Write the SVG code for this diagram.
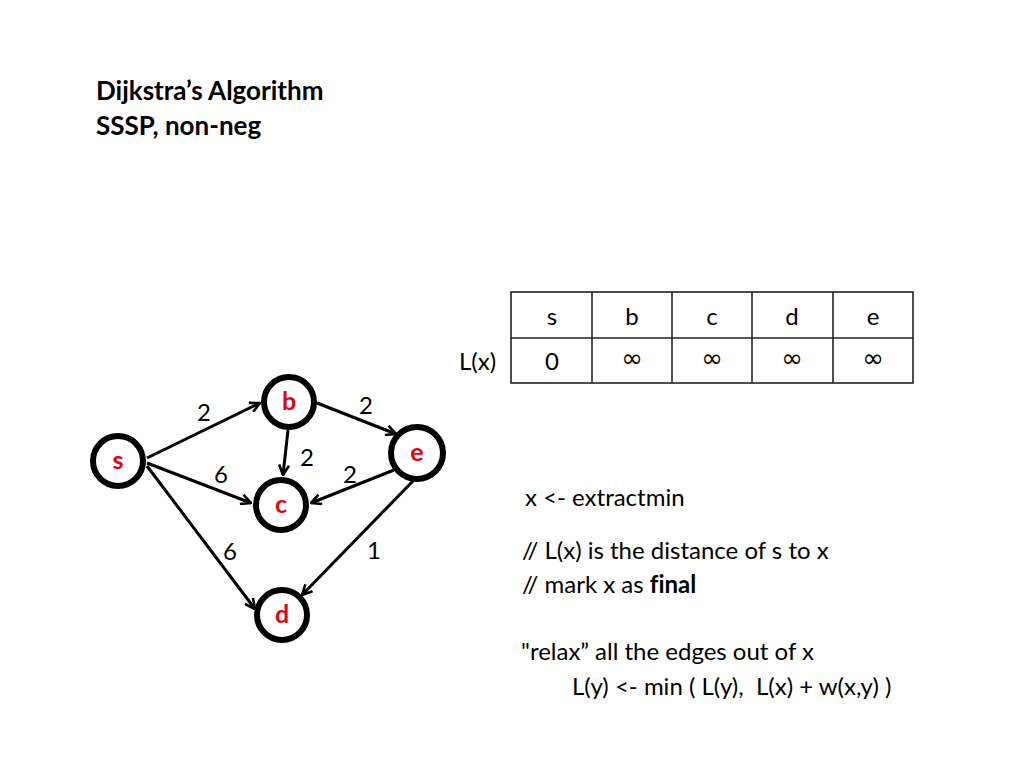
<svg xmlns="http://www.w3.org/2000/svg" width="1024" height="768" viewBox="0 0 1024 768">
<defs>
<style>
text{font-family:Lato,"Liberation Sans",sans-serif;fill:#000;white-space:pre;font-variant-ligatures:none}
.title{font-size:26px;font-weight:bold}
.t{font-size:24px}
.w{font-size:24px;text-anchor:middle}
.nl{font-size:25px;font-weight:bold;fill:#e8000b;text-anchor:middle}
.node{fill:#fff;stroke:#000;stroke-width:6}
.edge{stroke:#000;stroke-width:3;fill:none;marker-end:url(#arr)}
.cell{fill:none;stroke:#222;stroke-width:1.6}
.c{font-size:24px;text-anchor:middle}
text.inf{font-family:"DejaVu Sans",sans-serif;font-size:26px;text-anchor:middle}
</style>
<marker id="arr" viewBox="0 0 12 12" refX="11" refY="6" markerWidth="12" markerHeight="12" markerUnits="userSpaceOnUse" orient="auto">
<path d="M1,1 L11,6 L1,11" fill="none" stroke="#000" stroke-width="2.6"/>
</marker>
</defs>
<rect width="1024" height="768" fill="#fff"/>
<g id="title">
<text class="title" x="96" y="100">Dijkstra’s Algorithm</text>
<text class="title" x="96" y="135">SSSP, non-neg</text>
</g>
<g id="table">
<rect class="cell" x="511" y="292" width="402" height="91"/>
<line class="cell" x1="511" y1="338" x2="913" y2="338"/>
<line class="cell" x1="592" y1="292" x2="592" y2="383"/>
<line class="cell" x1="672" y1="292" x2="672" y2="383"/>
<line class="cell" x1="752" y1="292" x2="752" y2="383"/>
<line class="cell" x1="833" y1="292" x2="833" y2="383"/>
<text class="c" x="552" y="325">s</text>
<text class="c" x="632" y="325">b</text>
<text class="c" x="712" y="325">c</text>
<text class="c" x="792" y="325">d</text>
<text class="c" x="873" y="325">e</text>
<text class="t" x="459" y="370" font-size="25">L(x)</text>
<text class="c" x="552" y="370">0</text>
<text class="inf" x="632" y="367">∞</text>
<text class="inf" x="712" y="367">∞</text>
<text class="inf" x="792" y="367">∞</text>
<text class="inf" x="873" y="367">∞</text>
</g>
<g id="edges">
<line class="edge" x1="147" y1="458" x2="260" y2="403"/>
<line class="edge" x1="317" y1="403" x2="396" y2="434"/>
<line class="edge" x1="288" y1="430" x2="283" y2="475"/>
<line class="edge" x1="147" y1="463" x2="251" y2="503"/>
<line class="edge" x1="394" y1="470" x2="311" y2="503"/>
<line class="edge" x1="147" y1="466" x2="255" y2="609"/>
<line class="edge" x1="413" y1="481" x2="302" y2="595"/>
<text class="w" x="204" y="421">2</text>
<text class="w" x="366" y="414">2</text>
<text class="w" x="307" y="466">2</text>
<text class="w" x="221" y="483">6</text>
<text class="w" x="350" y="483">2</text>
<text class="w" x="230" y="560">6</text>
<text class="w" x="374" y="559">1</text>
</g>
<g id="node-s"><circle class="node" cx="118" cy="461" r="25"/><text class="nl" x="118" y="469">s</text></g>
<g id="node-b"><circle class="node" cx="289" cy="402" r="25"/><text class="nl" x="289" y="410">b</text></g>
<g id="node-c"><circle class="node" cx="281" cy="505" r="25"/><text class="nl" x="281" y="513">c</text></g>
<g id="node-e"><circle class="node" cx="417" cy="453" r="26"/><text class="nl" x="417" y="461">e</text></g>
<g id="node-d"><circle class="node" cx="282" cy="615" r="25"/><text class="nl" x="282" y="623">d</text></g>
<g id="notes">
<text class="t" x="525" y="506">x &lt;- extractmin</text>
<text class="t" x="522" y="559">// L(x) is the distance of s to x</text>
<text class="t" x="522" y="593">// mark x as <tspan font-weight="bold">final</tspan></text>
<text class="t" x="521" y="660">"relax” all the edges out of x</text>
<text class="t" x="572" y="695">L(y) &lt;- min ( L(y),  L(x) + w(x,y) )</text>
</g>
</svg>
